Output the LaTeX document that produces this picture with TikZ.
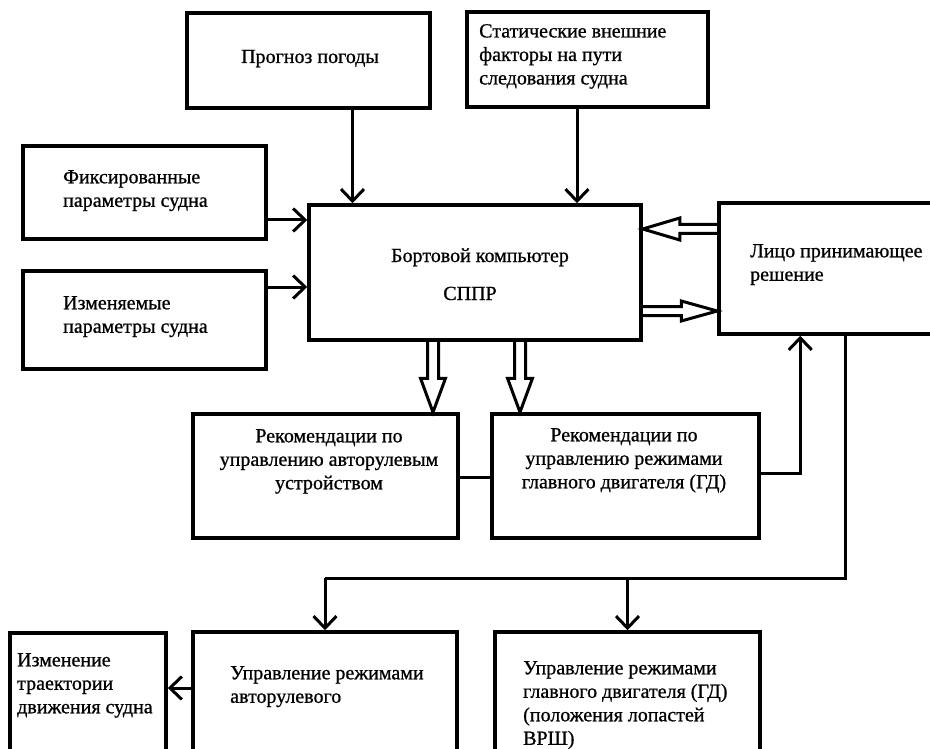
\documentclass[tikz,border=0pt]{standalone}
\usepackage{fontspec}
\setmainfont{Liberation Serif}[FakeBold=0.8]
\usetikzlibrary{arrows.meta,calc}
\begin{document}
\begin{tikzpicture}[x=1pt,y=-1pt,
  box/.style={draw, line width=3.5pt, rectangle, inner sep=0pt},
  txt/.style={font=\fontsize{20}{23.5}\selectfont, inner sep=0pt},
  conn/.style={line width=3pt},
  arr/.style={line width=3pt, -{Straight Barb[length=12pt,width=23pt]}},
  hollow/.style n args={3}{line width=3pt, to path={
     ($(\tikztostart)!#1!90:(\tikztotarget)$)
     -- ($($(\tikztotarget)!#3!(\tikztostart)$)!#1!90:(\tikztotarget)$)
     -- ($($(\tikztotarget)!#3!(\tikztostart)$)!#2!90:(\tikztotarget)$)
     -- (\tikztotarget)
     -- ($($(\tikztotarget)!#3!(\tikztostart)$)!#2!-90:(\tikztotarget)$)
     -- ($($(\tikztotarget)!#3!(\tikztostart)$)!#1!-90:(\tikztotarget)$)
     -- ($(\tikztostart)!#1!-90:(\tikztotarget)$)
  }},
]
\useasboundingbox (0,0) rectangle (930,749);
\clip (0,0) rectangle (930,749);
\fill[white] (0,0) rectangle (930,749);

% boxes
\node[box, minimum width=243, minimum height=95] (prog) at (308.5,60.5) {};
\node[box, minimum width=241, minimum height=95] (stat) at (587.5,59.5) {};
\node[box, minimum width=243, minimum height=93] (fix) at (144.5,192.5) {};
\node[box, minimum width=243, minimum height=98] (izm) at (144.5,320) {};
\node[box, minimum width=332, minimum height=135] (comp) at (475,272.5) {};
\node[box, minimum width=221, minimum height=131] (lpr) at (829.5,268.5) {};
\node[box, minimum width=265, minimum height=124] (reca) at (325.5,476) {};
\node[box, minimum width=267, minimum height=124] (recg) at (625.5,476) {};
\node[box, minimum width=156, minimum height=137] (izmtr) at (88,701.5) {};
\node[box, minimum width=264, minimum height=138] (upra) at (325,701) {};
\node[box, minimum width=265, minimum height=138] (uprg) at (627.5,701) {};

% texts
\node[txt, anchor=base] (tprog) at (310,63) {Прогноз погоды};
\node[txt, anchor=north west, align=left] (tstat) at (479,24) {Статические внешние\\факторы на пути\\следования судна};
\node[txt, anchor=north west, align=left] (tfix) at (63,170) {Фиксированные\\параметры судна};
\node[txt, anchor=north west, align=left] (tizm) at (63,296) {Изменяемые\\параметры судна};
\node[txt, anchor=base] (tcomp) at (480,262) {Бортовой компьютер};
\node[txt, anchor=base] (tsppr) at (470,300) {СППР};
\node[txt, anchor=north west, align=left] (tlpr) at (750,244) {Лицо принимающее\\решение};
\node[txt, anchor=north, align=center] (treca) at (329,429) {Рекомендации по\\управлению авторулевым\\устройством};
\node[txt, anchor=north, align=center] (trecg) at (624,428) {Рекомендации по\\управлению режимами\\главного двигателя (ГД)};
\node[txt, anchor=north west, align=left] (tizmtr) at (17,653) {Изменение\\траектории\\движения судна};
\node[txt, anchor=north west, align=left] (tupra) at (230,666) {Управление режимами\\авторулевого};
\node[txt, anchor=north west, align=left] (tuprg) at (523,661) {Управление режимами\\главного двигателя (ГД)\\(положения лопастей\\ВРШ)};

% connectors
\draw[arr] ($(prog.south)+(44,0)$) coordinate (p1) -- (p1 |- comp.north);
\draw[arr] ($(stat.south)+(-10.5,0)$) coordinate (s1) -- (s1 |- comp.north);
\draw[arr] ($(fix.east)+(0,27.5)$) coordinate (f1) -- (f1 -| comp.west);
\draw[arr] ($(izm.east)+(0,-33)$) coordinate (i1) -- (i1 -| comp.west);

\draw[hollow={4.5pt}{11pt}{37pt}] ($(lpr.west)+(0,-39.5)$) coordinate (h1) to (h1 -| comp.east);
\draw[hollow={4.5pt}{10pt}{36pt}] ($(comp.east)+(0,38.5)$) coordinate (h2) to (h2 -| lpr.west);
\draw[hollow={5.5pt}{12.5pt}{34pt}] ($(comp.south)+(-42,0)$) coordinate (h3) to (h3 |- reca.north);
\draw[hollow={5.5pt}{12.5pt}{34pt}] ($(comp.south)+(45,0)$) coordinate (h4) to (h4 |- recg.north);

\draw[conn] ($(reca.east)+(0,1)$) coordinate (r1) -- (r1 -| recg.west);
\coordinate (l1) at ($(lpr.south west)+(83,0)$);
\draw[arr] ($(recg.east)+(0,-3)$) coordinate (r2) -| (l1);

\coordinate (l2) at ($(lpr.south west)+(128,0)$);
\coordinate (bus) at (0,578);
\draw[conn] (l2) |- (bus -| upra.north);
\draw[arr] (bus -| upra.north) -- (upra.north);
\draw[arr] (bus -| uprg.north) -- (uprg.north);

\draw[arr] ($(upra.west)+(0,-13)$) coordinate (u1) -- (u1 -| izmtr.east);
\end{tikzpicture}
\end{document}
